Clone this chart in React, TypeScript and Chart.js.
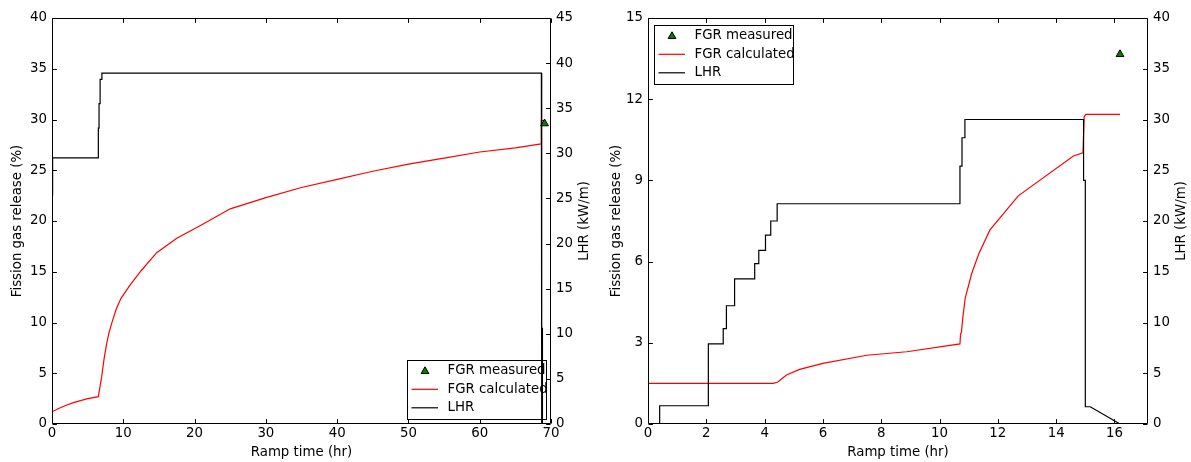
import React, { useEffect, useRef } from 'react';
import { Chart, registerables } from 'chart.js';

Chart.register(...registerables);

// ---------- Left panel data ----------
const leftLhrTime = [0, 0.05, 0.12, 6.5, 6.5, 6.6, 6.6, 6.75, 6.75, 7.0, 7.0, 68.65, 68.65, 68.72, 68.72, 68.8, 68.8, 69.3];
const leftLhrValue = [25.4, 27.5, 29.5, 29.5, 32.8, 32.8, 35.5, 35.5, 38.2, 38.2, 38.9, 38.9, 0, 0, 10.6, 10.6, 0, 0];

const leftFgrTime = [0, 1, 2, 3, 4, 5, 6.5, 6.97, 7.3, 7.67, 8.0, 8.37, 9.0, 9.68, 10.94, 12.5, 14.68, 17.5, 20.76, 25, 30, 35, 40, 45, 50, 55, 60, 65, 68.6, 68.65, 69.2];
const leftFgrValue = [1.2, 1.55, 1.85, 2.1, 2.3, 2.5, 2.69, 4.66, 6.4, 7.95, 9.0, 9.92, 11.3, 12.38, 13.69, 15.1, 16.88, 18.3, 19.54, 21.2, 22.3, 23.3, 24.1, 24.9, 25.6, 26.2, 26.8, 27.2, 27.6, 29.9, 29.9];

const leftMeasTime = [69.1];
const leftMeasValue = [29.6];

// ---------- Right panel data ----------
const rightLhrTime = [0.4, 0.4, 2.07, 2.07, 2.58, 2.58, 2.69, 2.69, 2.97, 2.97, 3.66, 3.66, 3.8, 3.8, 4.03, 4.03, 4.21, 4.21, 4.43, 4.43, 10.7, 10.7, 10.77, 10.77, 10.87, 10.87, 14.94, 14.94, 15.0, 15.0, 15.17, 16.19];
const rightLhrValue = [0, 1.8, 1.8, 7.9, 7.9, 9.4, 9.4, 11.65, 11.65, 14.3, 14.3, 15.8, 15.8, 17.1, 17.1, 18.6, 18.6, 20.0, 20.0, 21.7, 21.7, 25.4, 25.4, 28.2, 28.2, 30.0, 30.0, 24.0, 24.0, 1.7, 1.7, 0];

const rightFgrTime = [0, 4.3, 4.45, 4.6, 4.75, 5.2, 6.0, 7.5, 8.87, 10.7, 10.72, 10.75, 10.8, 10.88, 11.1, 11.35, 11.73, 12.7, 14.59, 14.92, 14.96, 15.02, 16.19];
const rightFgrValue = [1.5, 1.5, 1.55, 1.68, 1.81, 2.02, 2.24, 2.54, 2.67, 2.96, 3.32, 3.39, 3.95, 4.65, 5.55, 6.3, 7.17, 8.43, 9.9, 10.02, 11.35, 11.44, 11.44];

const rightMeasTime = [16.19];
const rightMeasValue = [13.66];

// ---------- Labels ----------
const xTitle = 'Ramp time (hr)';
const yTitle = 'Fission gas release (%)';
const y2Title = 'LHR (kW/m)';
const legendLabels = ['FGR measured', 'FGR calculated', 'LHR'];

const FONT = 'DejaVu Sans';
const FS = 13.33;
const GREEN = '#007f00';

Chart.defaults.font.family = FONT;
Chart.defaults.font.size = FS;
Chart.defaults.color = '#000';

const zip = (t: number[], v: number[]) => t.map((x, i) => ({ x, y: v[i] }));

function drawTriangle(ctx: CanvasRenderingContext2D, x: number, y: number, r: number) {
  ctx.beginPath();
  ctx.moveTo(x, y - r);
  ctx.lineTo(x + r * 0.866, y + r * 0.5);
  ctx.lineTo(x - r * 0.866, y + r * 0.5);
  ctx.closePath();
  ctx.fillStyle = GREEN;
  ctx.fill();
  ctx.strokeStyle = '#000';
  ctx.lineWidth = 1;
  ctx.stroke();
}

const makeLegendPlugin = (corner: 'br' | 'tl') => ({
  id: 'boxLegend',
  beforeDatasetsDraw(chart: any) {
    const { ctx, chartArea } = chart;
    const w = 139;
    const h = 59;
    let x0: number, y0: number;
    if (corner === 'br') {
      x0 = chartArea.right - 5.5 - w;
      y0 = chartArea.bottom - 5.5 - h;
    } else {
      x0 = chartArea.left + 6;
      y0 = chartArea.top + 7;
    }
    x0 = Math.round(x0) + 0.5;
    y0 = Math.round(y0) + 0.5;
    ctx.save();
    ctx.fillStyle = '#fff';
    ctx.fillRect(x0, y0, w, h);
    ctx.strokeStyle = '#000';
    ctx.lineWidth = 1;
    ctx.strokeRect(x0, y0, w, h);
    const rows = [10.3, 28.8, 47.3];
    // marker
    drawTriangle(ctx, x0 + 17.5, rows[0] + y0 + 0.5, 4.5);
    ctx.lineWidth = 1.2;
    ctx.strokeStyle = '#ff0000';
    ctx.beginPath();
    ctx.moveTo(x0 + 4, y0 + rows[1]);
    ctx.lineTo(x0 + 30.5, y0 + rows[1]);
    ctx.stroke();
    ctx.strokeStyle = '#000';
    ctx.beginPath();
    ctx.moveTo(x0 + 4, y0 + rows[2]);
    ctx.lineTo(x0 + 30.5, y0 + rows[2]);
    ctx.stroke();
    ctx.fillStyle = '#000';
    ctx.font = `${FS}px "${FONT}"`;
    ctx.textAlign = 'left';
    ctx.textBaseline = 'middle';
    legendLabels.forEach((t, i) => ctx.fillText(t, x0 + 40, y0 + rows[i]));
    ctx.restore();
  },
});

const framePlugin = {
  id: 'frameTicks',
  afterDraw(chart: any) {
    const { ctx, chartArea, scales } = chart;
    const L = Math.round(chartArea.left) + 0.5;
    const R = Math.round(chartArea.right) - 0.5;
    const T = Math.round(chartArea.top) + 0.5;
    const B = Math.round(chartArea.bottom) - 0.5;
    const tl = 4.4;
    ctx.save();
    ctx.strokeStyle = '#000';
    ctx.lineWidth = 1;
    ctx.beginPath();
    ctx.rect(L, T, R - L, B - T);
    ctx.stroke();
    ctx.beginPath();
    scales.x.ticks.forEach((t: any) => {
      const px = Math.round(scales.x.getPixelForValue(t.value)) + 0.5;
      ctx.moveTo(px, B);
      ctx.lineTo(px, B - tl);
      ctx.moveTo(px, T);
      ctx.lineTo(px, T + tl);
    });
    scales.y.ticks.forEach((t: any) => {
      const py = Math.round(scales.y.getPixelForValue(t.value)) + 0.5;
      ctx.moveTo(L, py);
      ctx.lineTo(L + tl, py);
    });
    scales.y2.ticks.forEach((t: any) => {
      const py = Math.round(scales.y2.getPixelForValue(t.value)) + 0.5;
      ctx.moveTo(R, py);
      ctx.lineTo(R - tl, py);
    });
    ctx.stroke();
    // right axis title, rotated like matplotlib (bottom-to-top)
    ctx.translate(chartArea.right + 34, (chartArea.top + chartArea.bottom) / 2);
    ctx.rotate(-Math.PI / 2);
    ctx.fillStyle = '#000';
    ctx.font = `${FS}px "${FONT}"`;
    ctx.textAlign = 'center';
    ctx.textBaseline = 'middle';
    ctx.fillText(y2Title, 0, 0);
    ctx.restore();
  },
};

interface PanelCfg {
  lhrT: number[];
  lhrV: number[];
  fgrT: number[];
  fgrV: number[];
  measT: number[];
  measV: number[];
  xMax: number;
  xStep: number;
  yMax: number;
  yStep: number;
  y2Max: number;
  y2Step: number;
  corner: 'br' | 'tl';
  yTitlePad: number;
  leftW: number;
  rightW: number;
}

function makeChart(canvas: HTMLCanvasElement, c: PanelCfg) {
  const axisCommon = {
    grid: { display: false, drawTicks: false },
    border: { display: false },
  };
  return new Chart(canvas, {
    type: 'line',
    data: {
      datasets: [
        {
          label: legendLabels[0],
          data: zip(c.measT, c.measV),
          yAxisID: 'y',
          showLine: false,
          pointStyle: 'triangle',
          pointRadius: 4.5,
          pointBackgroundColor: GREEN,
          pointBorderColor: '#000',
          pointBorderWidth: 1,
          order: 0,
        },
        {
          label: legendLabels[1],
          data: zip(c.fgrT, c.fgrV),
          yAxisID: 'y',
          borderColor: '#ff0000',
          borderWidth: 1.2,
          pointRadius: 0,
          tension: 0,
          order: 2,
        },
        {
          label: legendLabels[2],
          data: zip(c.lhrT, c.lhrV),
          yAxisID: 'y2',
          borderColor: '#000',
          borderWidth: 1.2,
          pointRadius: 0,
          tension: 0,
          order: 1,
        },
      ],
    } as any,
    options: {
      responsive: false,
      animation: false,
      events: [],
      layout: { padding: { top: 18, left: 0, right: 0, bottom: 0 } },
      plugins: { legend: { display: false }, tooltip: { enabled: false } },
      scales: {
        x: {
          type: 'linear',
          min: 0,
          max: c.xMax,
          ticks: { stepSize: c.xStep, includeBounds: false, padding: 2, maxRotation: 0, autoSkip: false },
          ...axisCommon,
          title: { display: true, text: xTitle, padding: { top: 0, bottom: 1 } },
          afterFit: (s: any) => {
            s.height = 38;
          },
        },
        y: {
          type: 'linear',
          position: 'left',
          min: 0,
          max: c.yMax,
          ticks: { stepSize: c.yStep, padding: 5 },
          ...axisCommon,
          title: { display: true, text: yTitle, padding: { top: c.yTitlePad, bottom: 0 } },
          afterFit: (s: any) => {
            s.width = c.leftW;
          },
        },
        y2: {
          type: 'linear',
          position: 'right',
          min: 0,
          max: c.y2Max,
          ticks: { stepSize: c.y2Step, padding: 5 },
          ...axisCommon,
          afterFit: (s: any) => {
            s.width = c.rightW;
          },
        },
      },
    } as any,
    plugins: [makeLegendPlugin(c.corner), framePlugin],
  });
}

export default function App() {
  const leftRef = useRef<HTMLCanvasElement>(null);
  const rightRef = useRef<HTMLCanvasElement>(null);

  useEffect(() => {
    const a = makeChart(leftRef.current!, {
      lhrT: leftLhrTime,
      lhrV: leftLhrValue,
      fgrT: leftFgrTime,
      fgrV: leftFgrValue,
      measT: leftMeasTime,
      measV: leftMeasValue,
      xMax: 70,
      xStep: 10,
      yMax: 40,
      yStep: 5,
      y2Max: 45,
      y2Step: 5,
      corner: 'br',
      yTitlePad: 10,
      leftW: 52,
      rightW: 69,
    });
    const b = makeChart(rightRef.current!, {
      lhrT: rightLhrTime,
      lhrV: rightLhrValue,
      fgrT: rightFgrTime,
      fgrV: rightFgrValue,
      measT: rightMeasTime,
      measV: rightMeasValue,
      xMax: 17.15,
      xStep: 2,
      yMax: 15,
      yStep: 3,
      y2Max: 40,
      y2Step: 5,
      corner: 'tl',
      yTitlePad: 13,
      leftW: 52,
      rightW: 43,
    });
    return () => {
      a.destroy();
      b.destroy();
    };
  }, []);

  return (
    <div style={{ position: 'fixed', left: 0, top: 0, width: 1191, height: 462, background: '#fff' }}>
      <canvas ref={leftRef} width={620} height={462} style={{ position: 'absolute', left: 0, top: 0 }} />
      <canvas ref={rightRef} width={595} height={462} style={{ position: 'absolute', left: 596, top: 0 }} />
    </div>
  );
}
